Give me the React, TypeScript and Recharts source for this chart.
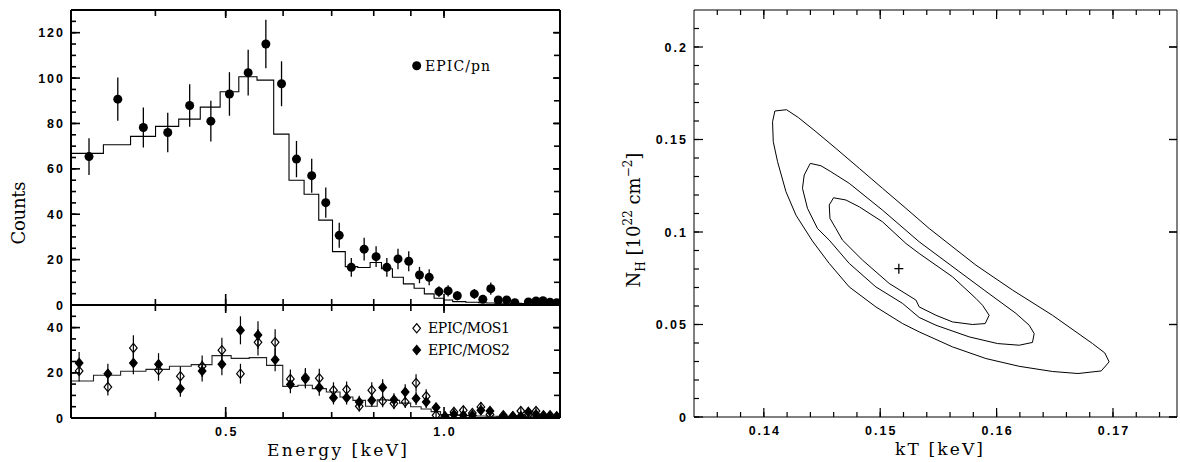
import React from "react";
import { ComposedChart, Scatter, Line, XAxis, YAxis, ErrorBar } from "recharts";

// EPIC/pn spectrum, upper left panel
const pnEnergy = [0.324, 0.355, 0.385, 0.416, 0.446, 0.477, 0.506, 0.537, 0.568, 0.597, 0.626, 0.657, 0.687, 0.717, 0.745, 0.776, 0.806, 0.834, 0.864, 0.894, 0.925, 0.954, 0.984, 1.013, 1.043, 1.101, 1.131, 1.16, 1.188, 1.22, 1.252, 1.307, 1.339, 1.369, 1.4, 1.43];
const pnCounts = [65.4, 90.7, 78.2, 76.0, 87.9, 81.0, 93.0, 102.4, 115.0, 97.5, 64.3, 57.0, 45.1, 30.7, 16.6, 24.6, 21.3, 16.6, 20.3, 19.3, 13.2, 12.2, 5.9, 6.2, 4.1, 4.9, 2.5, 7.2, 2.2, 2.2, 1.0, 1.3, 1.8, 1.9, 1.2, 1.0];
const pnError = [8.1, 9.5, 8.8, 8.7, 9.4, 9.0, 9.6, 10.1, 10.7, 9.9, 8.0, 7.5, 6.7, 5.5, 4.1, 5.0, 4.6, 4.1, 4.5, 4.4, 3.6, 3.5, 2.4, 2.5, 2.0, 2.2, 1.6, 2.7, 1.5, 1.5, 1.0, 1.1, 1.3, 1.4, 1.1, 1.0];
const pnModel = [66.8, 70.6, 74.3, 78.7, 81.9, 87.2, 94.0, 100.6, 99.1, 75.3, 55.0, 48.8, 37.4, 23.5, 16.9, 16.5, 18.7, 16.0, 12.2, 9.3, 7.4, 4.9, 3.0, 2.2, 1.5, 1.2, 1.0, 0.9, 0.8, 0.8, 0.7, 0.6, 0.6, 0.5, 0.5, 0.4];

// EPIC/MOS spectra, lower left panel
const mosEnergy = [0.314, 0.344, 0.373, 0.404, 0.433, 0.464, 0.494, 0.524, 0.554, 0.585, 0.614, 0.644, 0.673, 0.704, 0.734, 0.764, 0.795, 0.823, 0.853, 0.884, 0.915, 0.945, 0.975, 1.003, 1.032, 1.063, 1.094, 1.124, 1.157, 1.207, 1.244, 1.276, 1.307, 1.339, 1.371, 1.4, 1.43];
const mos1Counts = [20.8, 13.7, 31.0, 21.1, 18.5, 22.9, 30.0, 19.6, 33.5, 33.5, 17.3, 17.9, 17.6, 12.3, 12.6, 5.2, 12.3, 7.5, 6.4, 7.1, 15.5, 9.6, 1.2, 0.4, 2.7, 3.4, 2.2, 4.9, 1.6, 1.2, 0.8, 3.1, 1.6, 3.1, 1.2, 1.2, 0.8];
const mos1Error = [4.6, 3.7, 5.6, 4.6, 4.3, 4.8, 5.5, 4.4, 5.8, 5.8, 4.2, 4.2, 4.2, 3.5, 3.5, 2.3, 3.5, 2.7, 2.5, 2.7, 3.9, 3.1, 1.1, 0.6, 1.6, 1.8, 1.5, 2.2, 1.3, 1.1, 0.9, 1.8, 1.3, 1.8, 1.1, 1.1, 0.9];
const mos2Counts = [24.3, 19.6, 24.3, 23.8, 13.0, 20.8, 23.8, 38.8, 36.7, 25.8, 14.8, 17.3, 13.5, 9.0, 9.0, 7.1, 7.8, 13.5, 8.1, 11.5, 8.6, 7.1, 4.6, 0.8, 1.6, 1.2, 1.2, 3.4, 3.1, 0.6, 0.8, 0.8, 2.7, 1.6, 0.8, 0.6, 0.5];
const mos2Error = [4.9, 4.4, 4.9, 4.9, 3.6, 4.6, 4.9, 6.2, 6.1, 5.1, 3.8, 4.2, 3.7, 3.0, 3.0, 2.7, 2.8, 3.7, 2.8, 3.4, 2.9, 2.7, 2.1, 0.9, 1.3, 1.1, 1.1, 1.8, 1.8, 0.8, 0.9, 0.9, 1.6, 1.3, 0.9, 0.8, 0.7];
const mosModel = [16.4, 18.9, 20.7, 21.5, 22.9, 23.6, 27.6, 26.4, 26.7, 23.3, 14.0, 14.5, 13.0, 11.5, 9.3, 7.8, 5.2, 8.0, 7.8, 6.6, 5.0, 4.0, 2.8, 1.5, 1.3, 1.1, 1.0, 0.9, 0.8, 0.7, 0.6, 0.6, 0.5, 0.5, 0.4, 0.4, 0.4];

// kT / NH confidence contours, right panel
const contourOuter = [
  [0.14095, 0.1654], [0.14195, 0.1661], [0.14298, 0.1618], [0.14448, 0.1542], [0.14619, 0.1452],
  [0.1482, 0.1344], [0.1502, 0.1236], [0.15221, 0.1128], [0.15421, 0.1019], [0.15822, 0.0821],
  [0.16137, 0.0686], [0.1648, 0.055], [0.16824, 0.0397], [0.1693, 0.0346], [0.16967, 0.0298],
  [0.16899, 0.0249], [0.167, 0.0235], [0.1648, 0.0246], [0.16194, 0.0274], [0.15908, 0.0316],
  [0.15621, 0.0379], [0.15335, 0.046], [0.15192, 0.0505], [0.14963, 0.0595], [0.14734, 0.0703],
  [0.14562, 0.083], [0.14418, 0.0951], [0.14276, 0.1091], [0.1419, 0.1218], [0.14118, 0.138],
  [0.14081, 0.1488], [0.14075, 0.1596], [0.14095, 0.1654],
];
const contourMiddle = [
  [0.14399, 0.1371], [0.14491, 0.1358], [0.14576, 0.1326], [0.14734, 0.1263], [0.1502, 0.1118],
  [0.15335, 0.0947], [0.15893, 0.0686], [0.16166, 0.056], [0.1628, 0.0496], [0.16323, 0.0451],
  [0.16308, 0.0403], [0.16194, 0.0388], [0.16008, 0.0397], [0.15765, 0.0433], [0.15479, 0.0496],
  [0.15335, 0.0538], [0.15192, 0.0614], [0.14963, 0.0703], [0.14734, 0.083], [0.14562, 0.0956],
  [0.14461, 0.1019], [0.14375, 0.1128], [0.14332, 0.1236], [0.14347, 0.1308], [0.14399, 0.1371],
];
const contourInner = [
  [0.14599, 0.1185], [0.14705, 0.1173], [0.1482, 0.1136], [0.1502, 0.1055], [0.15221, 0.0938],
  [0.15335, 0.0884], [0.15621, 0.0758], [0.15822, 0.0641], [0.15879, 0.0604], [0.15936, 0.055],
  [0.15902, 0.0505], [0.15793, 0.05], [0.15621, 0.0514], [0.15479, 0.055], [0.15335, 0.0595],
  [0.15307, 0.0632], [0.15077, 0.0722], [0.14848, 0.0848], [0.14676, 0.0956], [0.14619, 0.1019],
  [0.14568, 0.1074], [0.14562, 0.1146], [0.14599, 0.1185],
];
const bestFit = [0.1516, 0.0802];

// axes
const energyRange = [0.306, 1.445];
const energyTicks = [0.4, 0.5, 0.6, 0.7, 0.8, 0.9, 1.0];
const energyMajor = [0.5, 1.0];
const countTicks = [0, 5, 10, 15, 20, 25, 30, 35, 40, 45, 50, 55, 60, 65, 70, 75, 80, 85, 90, 95, 100, 105, 110, 115, 120, 125];
const countRightTicks = [0, 10, 20, 30, 40, 50, 60, 70, 80, 90, 100, 110, 120];
const countMajor = [0, 20, 40, 60, 80, 100, 120];
const mosTicks = [0, 5, 10, 15, 20, 25, 30, 35, 40, 45];
const mosRightTicks = [0, 10, 20, 30, 40];
const mosMajor = [0, 20, 40];
const ktRange = [0.134, 0.1755];
const ktTicks = [0.136, 0.138, 0.14, 0.142, 0.144, 0.146, 0.148, 0.15, 0.152, 0.154, 0.156, 0.158, 0.16, 0.162, 0.164, 0.166, 0.168, 0.17, 0.172, 0.174];
const ktMajor = [0.14, 0.15, 0.16, 0.17];
const nhRange = [0, 0.22];
const nhTicks = [0, 0.01, 0.02, 0.03, 0.04, 0.05, 0.06, 0.07, 0.08, 0.09, 0.1, 0.11, 0.12, 0.13, 0.14, 0.15, 0.16, 0.17, 0.18, 0.19, 0.2, 0.21];
const nhMajor = [0, 0.05, 0.1, 0.15, 0.2];

const SERIF = "'DejaVu Serif', 'Liberation Serif', serif";
const tickFont = {
  fontFamily: "'Liberation Sans', Arial, sans-serif",
  fontWeight: 700,
  fontSize: 12.5,
  letterSpacing: 2,
};

type Side = "left" | "right" | "top" | "bottom";

// native inward tick lines (negative tickSize) at minor length; the custom tick
// adds the longer major mark and the label, placed from the axis line
const axisProps = (side: Side, majors: number[], labelled: boolean, majorLen: number, minorLen: number, sw: number, fmt: (v: number) => string = (v) => String(v)) => ({
  tickSize: -minorLen,
  tickMargin: minorLen,
  tickLine: { stroke: "#000", strokeWidth: sw },
  interval: 0 as const,
  tick: (p: any) => {
    const v = p.payload.value;
    const major = majors.some((m) => Math.abs(m - v) < 1e-9);
    const x = Number(p.x);
    const y = Number(p.y);
    let x2 = x;
    let y2 = y;
    if (side === "bottom") y2 = y - majorLen;
    if (side === "top") y2 = y + majorLen;
    if (side === "left") x2 = x + majorLen;
    if (side === "right") x2 = x - majorLen;
    let label = null;
    if (labelled && major) {
      if (side === "bottom") {
        label = <text x={x + 1} y={y + 18} textAnchor="middle" fill="#000" style={tickFont}>{fmt(v)}</text>;
      } else if (side === "left") {
        label = <text x={x - 6} y={y + 4.5} textAnchor="end" fill="#000" style={tickFont}>{fmt(v)}</text>;
      }
    }
    return (
      <g>
        {major && <line x1={x} y1={y} x2={x2} y2={y2} stroke="#000" strokeWidth={sw} />}
        {label}
      </g>
    );
  },
});

const circle = (p: any) => <circle cx={p.cx} cy={p.cy} r={4.5} fill="#000" />;
const diamond = (filled: boolean) => (p: any) => (
  <path
    d={`M${p.cx},${p.cy - 4.6}L${p.cx + 3.8},${p.cy}L${p.cx},${p.cy + 4.6}L${p.cx - 3.8},${p.cy}Z`}
    fill={filled ? "#000" : "none"}
    stroke="#000"
    strokeWidth={1.2}
  />
);
const plus = (p: any) => (
  <g stroke="#000" strokeWidth={1.3}>
    <line x1={p.cx - 4.5} y1={p.cy} x2={p.cx + 4.5} y2={p.cy} />
    <line x1={p.cx} y1={p.cy - 5} x2={p.cx} y2={p.cy + 5} />
  </g>
);

const frame2 = { stroke: "#000", strokeWidth: 2 };
const frame1 = { stroke: "#000", strokeWidth: 1 };
const fmtE = (v: number) => v.toFixed(1);

export default function App() {
  const pnData = pnEnergy.map((e, i) => ({ e, c: pnCounts[i], err: pnError[i] }));
  const pnModelData = [
    { e: energyRange[0], m: pnModel[0] },
    ...pnEnergy.map((e, i) => ({ e, m: pnModel[i] })),
    { e: energyRange[1], m: pnModel[pnModel.length - 1] },
  ];
  const mos1Data = mosEnergy.map((e, i) => ({ e, c: mos1Counts[i], err: mos1Error[i] }));
  const mos2Data = mosEnergy.map((e, i) => ({ e, c: mos2Counts[i], err: mos2Error[i] }));
  const mosModelData = [
    { e: energyRange[0], m: mosModel[0] },
    ...mosEnergy.map((e, i) => ({ e, m: mosModel[i] })),
    { e: energyRange[1], m: mosModel[mosModel.length - 1] },
  ];
  const toPts = (c: number[][]) => c.map(([kt, nh]) => ({ kt, nh }));
  const contours = [contourOuter, contourMiddle, contourInner].map(toPts);
  const best = [{ kt: bestFit[0], nh: bestFit[1] }];

  const energyAxes = (labelled: boolean, bottomHeight: number) => [
    <XAxis key="xb" xAxisId="b" dataKey="e" type="number" scale="log" domain={energyRange} allowDataOverflow
      ticks={energyTicks} height={bottomHeight} axisLine={frame2}
      {...axisProps("bottom", energyMajor, labelled, 11, 6, 1.6, fmtE)} />,
    <XAxis key="xt" xAxisId="t" orientation="top" dataKey="e" type="number" scale="log" domain={energyRange} allowDataOverflow
      ticks={energyTicks} height={1} axisLine={frame2}
      {...axisProps("top", energyMajor, false, 8, 6, 1.6)} />,
  ];

  return (
    <div style={{ position: "absolute", left: 0, top: 0, width: 1180, height: 462, background: "#fff" }}>
      <div style={{ position: "absolute", left: 0, top: 0 }}>
        <ComposedChart width={570} height={320} margin={{ top: 9, right: 9, bottom: 14, left: 0 }}>
          {energyAxes(false, 1)}
          <YAxis yAxisId="l" type="number" domain={[0, 130]} allowDataOverflow ticks={countTicks}
            width={71} axisLine={frame2} {...axisProps("left", countMajor, true, 9, 5, 1.6)} />
          <YAxis yAxisId="r" orientation="right" type="number" domain={[0, 130]} allowDataOverflow ticks={countRightTicks}
            width={1} axisLine={frame2} {...axisProps("right", countMajor, false, 7, 6, 1.6)} />
          <Line data={pnModelData} xAxisId="b" yAxisId="l" dataKey="m" type="step" stroke="#000" strokeWidth={1.1}
            dot={false} isAnimationActive={false} />
          <Scatter data={pnData} xAxisId="b" yAxisId="l" dataKey="c" shape={circle} isAnimationActive={false}>
            <ErrorBar dataKey="err" direction="y" width={0} stroke="#000" strokeWidth={1.3} />
          </Scatter>
        </ComposedChart>
      </div>

      <div style={{ position: "absolute", left: 0, top: 295 }}>
        <ComposedChart width={570} height={160} margin={{ top: 9, right: 9, bottom: 0, left: 0 }}>
          {energyAxes(true, 37)}
          <YAxis yAxisId="l" type="number" domain={[0, 50]} allowDataOverflow ticks={mosTicks}
            width={71} axisLine={frame2} {...axisProps("left", mosMajor, true, 9, 5, 1.6)} />
          <YAxis yAxisId="r" orientation="right" type="number" domain={[0, 50]} allowDataOverflow ticks={mosRightTicks}
            width={1} axisLine={frame2} {...axisProps("right", mosMajor, false, 7, 6, 1.6)} />
          <Line data={mosModelData} xAxisId="b" yAxisId="l" dataKey="m" type="step" stroke="#222" strokeWidth={1.1}
            dot={false} isAnimationActive={false} />
          <Scatter data={mos1Data} xAxisId="b" yAxisId="l" dataKey="c" shape={diamond(false)} isAnimationActive={false}>
            <ErrorBar dataKey="err" direction="y" width={0} stroke="#000" strokeWidth={1.2} />
          </Scatter>
          <Scatter data={mos2Data} xAxisId="b" yAxisId="l" dataKey="c" shape={diamond(true)} isAnimationActive={false}>
            <ErrorBar dataKey="err" direction="y" width={0} stroke="#000" strokeWidth={1.2} />
          </Scatter>
        </ComposedChart>
      </div>

      <div style={{ position: "absolute", left: 620, top: 0 }}>
        <ComposedChart width={560} height={462} margin={{ top: 9, right: 2, bottom: 0, left: 0 }}>
          <XAxis xAxisId="b" dataKey="kt" type="number" domain={ktRange} allowDataOverflow ticks={ktTicks}
            height={45} axisLine={frame1} {...axisProps("bottom", ktMajor, true, 9, 5, 1.2)} />
          <XAxis xAxisId="t" orientation="top" dataKey="kt" type="number" domain={ktRange} allowDataOverflow ticks={ktTicks}
            height={1} axisLine={frame1} {...axisProps("top", ktMajor, false, 9, 5, 1.2)} />
          <YAxis yAxisId="l" type="number" domain={nhRange} allowDataOverflow ticks={nhTicks}
            width={74} axisLine={frame1} {...axisProps("left", nhMajor, true, 9, 5, 1.2)} />
          <YAxis yAxisId="r" orientation="right" type="number" domain={nhRange} allowDataOverflow ticks={nhMajor}
            width={1} axisLine={frame1} {...axisProps("right", nhMajor, false, 8, 8, 1.2)} />
          {contours.map((c, i) => (
            <Line key={i} data={c} xAxisId="b" yAxisId="l" dataKey="nh" type="linear" stroke="#000" strokeWidth={1}
              dot={false} isAnimationActive={false} />
          ))}
          <Scatter data={best} xAxisId="b" yAxisId="l" dataKey="nh" shape={plus} isAnimationActive={false} />
        </ComposedChart>
      </div>

      <svg width={1180} height={462} style={{ position: "absolute", left: 0, top: 0, pointerEvents: "none" }}>
        <g fontFamily={SERIF} fill="#000" style={{ whiteSpace: "pre" }}>
          <text transform="translate(25,213) rotate(-90)" textAnchor="middle" fontSize={18} textLength={63} lengthAdjust="spacing">Counts</text>
          <text x={267} y={456} fontSize={17} textLength={140} lengthAdjust="spacing">Energy  [keV]</text>
          <text x={939} y={455} textAnchor="middle" fontSize={17} textLength={88} lengthAdjust="spacing">kT  [keV]</text>
          <text transform="translate(640,220) rotate(-90)" textAnchor="middle" fontSize={18}>
            <tspan>N</tspan>
            <tspan dy={5} fontSize={12}>H</tspan>
            <tspan dy={-5}>{"  [10"}</tspan>
            <tspan dy={-8} fontSize={12}>22</tspan>
            <tspan dy={8}>{" cm"}</tspan>
            <tspan dy={-8} fontSize={12}>−2</tspan>
            <tspan dy={8}>]</tspan>
          </text>
          <circle cx={416.7} cy={65.7} r={4.5} fill="#000" />
          <text x={425} y={70.5} fontSize={14} textLength={65} lengthAdjust="spacing">EPIC/pn</text>
          <path d="M416.7,323.7L420.5,328.3L416.7,332.9L412.9,328.3Z" fill="none" stroke="#000" strokeWidth={1.2} />
          <text x={428} y={333} fontSize={14} textLength={82} lengthAdjust="spacing">EPIC/MOS1</text>
          <path d="M416.7,345.4L420.5,350L416.7,354.6L412.9,350Z" fill="#000" stroke="#000" strokeWidth={1.2} />
          <text x={428} y={355} fontSize={14} textLength={82} lengthAdjust="spacing">EPIC/MOS2</text>
        </g>
      </svg>
    </div>
  );
}
